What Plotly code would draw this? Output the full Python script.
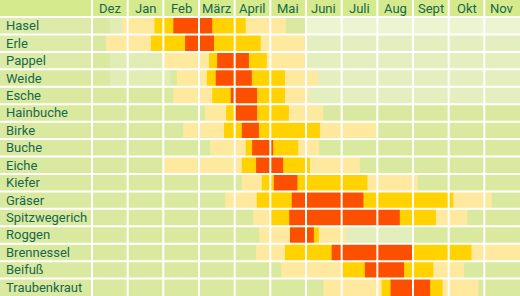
import plotly.graph_objects as go

plants = ["Hasel", "Erle", "Pappel", "Weide", "Esche", "Hainbuche", "Birke", "Buche",
          "Eiche", "Kiefer", "Gräser", "Spitzwegerich", "Roggen", "Brennessel", "Beifuß",
          "Traubenkraut"]
months = ["Dez", "Jan", "Feb", "März", "April", "Mai", "Juni", "Juli", "Aug", "Sept", "Okt", "Nov"]

# positions in months, 0 = start of December
season_start = [0.86, 0.39, 2.00, 2.38, 2.28, 3.17, 2.56, 3.31, 2.00, 4.20, 3.73, 4.52, 4.69, 4.60, 5.30, 6.49]
season_end   = [5.43, 5.97, 5.97, 6.33, 6.09, 6.48, 7.98, 6.37, 7.51, 9.13, 11.21, 10.52, 7.12, 12.00, 10.43, 10.83]
main_start   = [1.75, 1.65, 3.28, 3.22, 3.37, 3.76, 3.70, 4.31, 4.20, 4.76, 4.62, 5.01, 5.55, 5.41, 6.98, 8.12]
main_end     = [4.31, 4.73, 4.90, 5.41, 5.41, 5.52, 6.39, 5.78, 6.11, 7.72, 10.13, 9.64, 6.36, 10.64, 9.57, 9.83]
peak_start   = [2.28, 2.61, 3.51, 3.47, 3.89, 4.01, 4.20, 4.49, 4.60, 5.10, 5.60, 5.53, 5.55, 6.72, 7.65, 8.37]
peak_end     = [3.37, 3.42, 4.40, 4.48, 4.63, 4.63, 4.68, 5.08, 5.36, 5.76, 7.61, 8.63, 6.22, 8.98, 8.75, 9.48]

LIGHT = "#FEE99E"
YELLOW = "#FFD200"
RED = "#FC5000"
BG = "#DAE9A0"
HEADER = "#D5E98D"
TEXT = "#17684C"
FONT = "Roboto"

L, T, W, H = 92, 17, 520, 296
PW, PH = W - L, H - T

fig = go.Figure()
for s, e, c in [(season_start, season_end, LIGHT),
                (main_start, main_end, YELLOW),
                (peak_start, peak_end, RED)]:
    fig.add_bar(y=plants, base=s, x=[b - a for a, b in zip(s, e)], orientation="h",
                marker=dict(color=c, line=dict(width=0)), width=1.0, hoverinfo="skip")

shapes = []
# header band
shapes.append(dict(type="rect", xref="paper", yref="paper", x0=-L / PW, x1=1, y0=1, y1=1 + T / PH,
                   fillcolor=HEADER, line=dict(width=0), layer="below"))
# lighter watercolor patches of the background
for x0, x1, y0, y1, col in [(6 / 12, 1, 15 / 16, 1, "#ECF4D0"),
                            (5.5 / 12, 1, 11 / 16, 15 / 16, "#E3EFBE"),
                            (0.5 / 12, 2.2 / 12, 12 / 16, 1, "#E0EDB5"),
                            (6.5 / 12, 9 / 12, 2 / 16, 4 / 16, "#E2EEBC"),
                            (-L / PW, 0, 13 / 16, 1, "#DDEBA8")]:
    shapes.append(dict(type="rect", xref="paper", yref="paper", x0=x0, x1=x1, y0=y0, y1=y1,
                       fillcolor=col, line=dict(width=0), layer="below"))
# vertical lines
for i in range(12):
    shapes.append(dict(type="line", xref="paper", yref="paper", x0=i / 12, x1=i / 12,
                       y0=0, y1=1 + T / PH, line=dict(color="white", width=2), layer="above"))
# horizontal lines
for k in range(1, 17):
    shapes.append(dict(type="line", xref="paper", yref="paper", x0=-L / PW, x1=1,
                       y0=k / 16, y1=k / 16, line=dict(color="white", width=2), layer="above"))

annotations = []
for i, m in enumerate(months):
    annotations.append(dict(text=m, xref="paper", yref="paper", x=(i + 0.5) / 12,
                            y=1 + 9 / PH, xanchor="center", yanchor="middle", showarrow=False,
                            font=dict(family=FONT, size=13, color=TEXT)))
for j, p in enumerate(plants):
    annotations.append(dict(text=p, xref="paper", yref="paper", x=-(L - 4) / PW,
                            y=1 - (j + 0.5) / 16, xanchor="left", yanchor="middle", showarrow=False,
                            font=dict(family=FONT, size=13, color=TEXT)))

fig.update_layout(
    width=W, height=H, margin=dict(l=L, r=0, t=T, b=0, pad=0),
    barmode="overlay", showlegend=False,
    paper_bgcolor=BG, plot_bgcolor=BG,
    xaxis=dict(range=[0, 12], showgrid=False, zeroline=False, showticklabels=False, fixedrange=True),
    yaxis=dict(categoryorder="array", categoryarray=plants, range=[15.5, -0.5],
               showgrid=False, zeroline=False, showticklabels=False, fixedrange=True),
    shapes=shapes, annotations=annotations,
)
fig.write_html("out.html")
